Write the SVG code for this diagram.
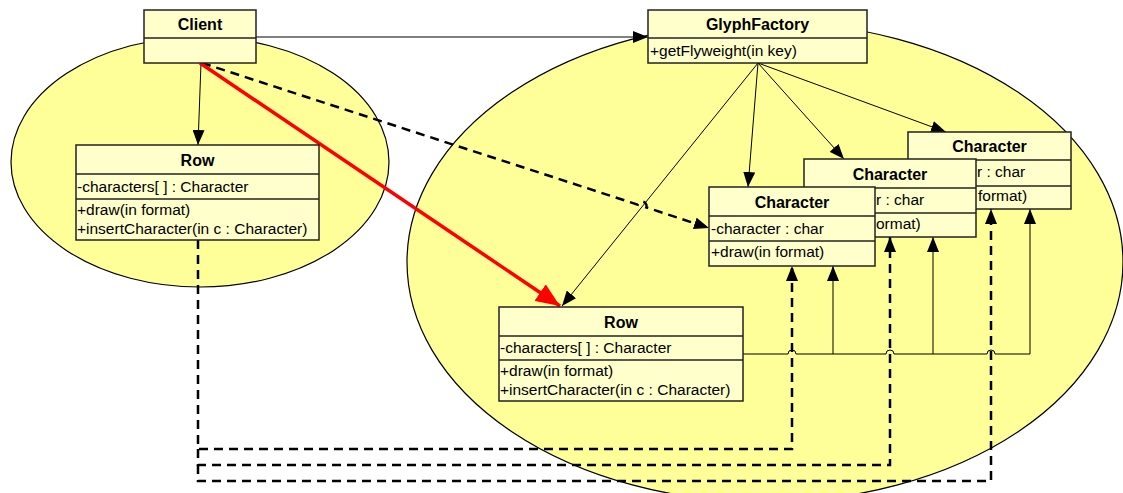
<svg xmlns="http://www.w3.org/2000/svg" width="1123" height="493" viewBox="0 0 1123 493">
  <style>
    .zone { fill: #ffff99; stroke: #000; stroke-width: 1.2; }
    .box { fill: #ffffcc; stroke: #222; stroke-width: 1.5; }
    .sep { stroke: #222; stroke-width: 1.5; }
    .title { font-family: "Liberation Sans", Arial, sans-serif; font-size: 16px; font-weight: bold; text-anchor: middle; fill: #000; }
    .member { font-family: "Liberation Sans", Arial, sans-serif; font-size: 15.5px; fill: #000; }
    .thin { fill: none; stroke: #000; stroke-width: 1; }
    .dash { fill: none; stroke: #000; stroke-width: 2.5; stroke-dasharray: 9 6; }
    .red { fill: none; stroke: #ff0000; stroke-width: 3.5; }
  </style>
  <defs>
    <marker id="arrow" markerUnits="userSpaceOnUse" markerWidth="16" markerHeight="12" refX="15" refY="6" orient="auto">
      <path d="M0,0 L15,6 L0,12 Z" fill="#000"/>
    </marker>
    <marker id="arrowRed" markerUnits="userSpaceOnUse" markerWidth="26" markerHeight="20" refX="24" refY="10" orient="auto">
      <path d="M0,0 L24,10 L0,20 Z" fill="#ff0000"/>
    </marker>
  </defs>

  <!-- grouping regions -->
  <g id="regions">
    <ellipse class="zone" cx="200" cy="162" rx="189" ry="125"/>
    <ellipse class="zone" cx="765" cy="262" rx="358" ry="240"/>
  </g>

  <!-- connectors -->
  <g id="connectors">
    <!-- Client -> GlyphFactory -->
    <line class="thin" x1="256" y1="37" x2="648" y2="37" marker-end="url(#arrow)"/>
    <!-- Client -> Row -->
    <line class="thin" x1="201" y1="63" x2="198" y2="145" marker-end="url(#arrow)"/>
    <!-- GlyphFactory -> Row / Characters -->
    <line class="thin" x1="758" y1="63" x2="562" y2="306" marker-end="url(#arrow)"/>
    <line class="thin" x1="758" y1="63" x2="748" y2="187" marker-end="url(#arrow)"/>
    <line class="thin" x1="758" y1="63" x2="844" y2="159" marker-end="url(#arrow)"/>
    <line class="thin" x1="758" y1="63" x2="946" y2="132" marker-end="url(#arrow)"/>
    <!-- Client -> Character (dashed, hops over factory line) -->
    <path class="dash" d="M202,63 L637.7,204.6 A4.5,4.5 0 0 1 646.3,207.4 L709,228" marker-end="url(#arrow)"/>
    <!-- Client -> Row (highlighted) -->
    <line class="red" x1="200" y1="63" x2="560" y2="306" marker-end="url(#arrowRed)"/>
    <!-- Row (left) -> Characters, dashed -->
    <path class="dash" d="M198,240 V449 H792 V266" marker-end="url(#arrow)"/>
    <path class="dash" d="M198,449 V465 H890 V237" marker-end="url(#arrow)"/>
    <path class="dash" d="M198,465 V481 H991 V209" marker-end="url(#arrow)"/>
    <!-- Row (right) -> Characters, solid with hops -->
    <path class="thin" d="M743,354 H788 A4,4 0 0 1 796,354 H886 A4,4 0 0 1 894,354 H987 A4,4 0 0 1 995,354 H1030 V209" marker-end="url(#arrow)"/>
    <line class="thin" x1="833" y1="354" x2="833" y2="266" marker-end="url(#arrow)"/>
    <line class="thin" x1="933" y1="354" x2="933" y2="237" marker-end="url(#arrow)"/>
  </g>

  <!-- Client -->
  <g id="client">
    <rect class="box" x="144" y="10" width="112" height="53"/>
    <line class="sep" x1="144" y1="38" x2="256" y2="38"/>
    <text class="title" x="200" y="30">Client</text>
  </g>

  <!-- GlyphFactory -->
  <g id="glyphFactory">
    <rect class="box" x="648" y="10" width="219" height="53"/>
    <line class="sep" x1="648" y1="38" x2="867" y2="38"/>
    <text class="title" x="757.5" y="30">GlyphFactory</text>
    <text class="member" x="650" y="56">+getFlyweight(in key)</text>
  </g>

  <!-- Row (left) -->
  <g id="rowLeft">
    <rect class="box" x="76" y="145" width="243" height="95"/>
    <line class="sep" x1="76" y1="174" x2="319" y2="174"/>
    <line class="sep" x1="76" y1="199" x2="319" y2="199"/>
    <text class="title" x="197.5" y="166">Row</text>
    <text class="member" x="77" y="192">-characters[ ] : Character</text>
    <text class="member" x="77" y="215">+draw(in format)</text>
    <text class="member" x="77" y="234">+insertCharacter(in c : Character)</text>
  </g>

  <!-- Row (right) -->
  <g id="rowRight">
    <rect class="box" x="499" y="307" width="244" height="94"/>
    <line class="sep" x1="499" y1="336" x2="743" y2="336"/>
    <line class="sep" x1="499" y1="360" x2="743" y2="360"/>
    <text class="title" x="621" y="328">Row</text>
    <text class="member" x="500" y="353">-characters[ ] : Character</text>
    <text class="member" x="500" y="376">+draw(in format)</text>
    <text class="member" x="500" y="395">+insertCharacter(in c : Character)</text>
  </g>

  <!-- Character (back): only the uncovered part of its members shows -->
  <g id="character3">
    <rect class="box" x="908" y="132" width="163" height="77"/>
    <line class="sep" x1="908" y1="160" x2="1071" y2="160"/>
    <line class="sep" x1="908" y1="186" x2="1071" y2="186"/>
    <text class="title" x="989.5" y="152">Character</text>
    <text class="member" x="977" y="177">r : char</text>
    <text class="member" x="978" y="201">format)</text>
  </g>

  <!-- Character (middle) -->
  <g id="character2">
    <rect class="box" x="804" y="159" width="172" height="78"/>
    <line class="sep" x1="804" y1="188" x2="976" y2="188"/>
    <line class="sep" x1="804" y1="213" x2="976" y2="213"/>
    <text class="title" x="890" y="180">Character</text>
    <text class="member" x="876" y="205">r : char</text>
    <text class="member" x="876" y="229">ormat)</text>
  </g>

  <!-- Character (front) -->
  <g id="character1">
    <rect class="box" x="709" y="187" width="166" height="79"/>
    <line class="sep" x1="709" y1="216" x2="875" y2="216"/>
    <line class="sep" x1="709" y1="241" x2="875" y2="241"/>
    <text class="title" x="792" y="208">Character</text>
    <text class="member" x="711" y="234">-character : char</text>
    <text class="member" x="711" y="257">+draw(in format)</text>
  </g>
</svg>
